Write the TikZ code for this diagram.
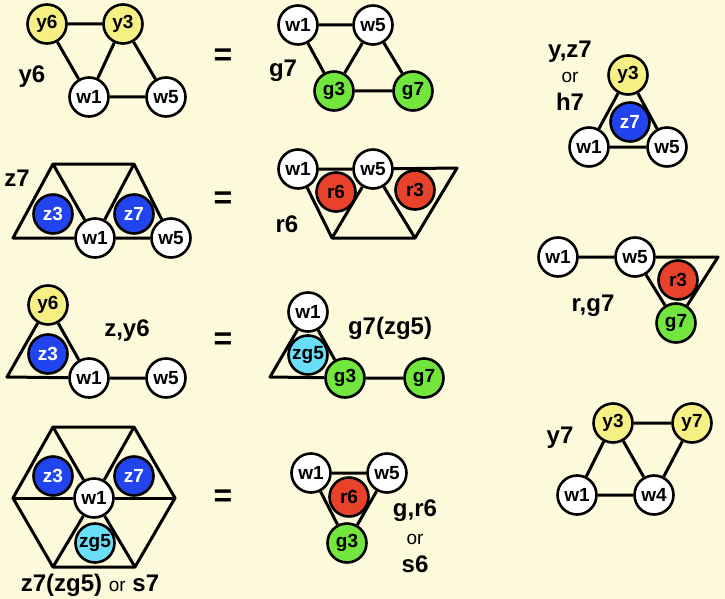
\documentclass[tikz,border=0pt]{standalone}
\usepackage{fontspec}
\setmainfont{Liberation Sans}
\definecolor{bgc}{HTML}{FDFADC}
\definecolor{ylw}{HTML}{F6EF84}
\definecolor{blu}{HTML}{2244EE}
\definecolor{rdc}{HTML}{E8432A}
\definecolor{grn}{HTML}{72E63C}
\definecolor{cyn}{HTML}{6ADDF7}

\begin{document}
\begin{tikzpicture}[x=1pt, y=-1pt,
    every node/.style={font=\fontsize{19}{21}\selectfont\bfseries},
    nd/.style={circle, draw, line width=2.6pt, minimum size=39pt, inner sep=0pt},
    wh/.style={nd, fill=white},
    yl/.style={nd, fill=ylw},
    bl/.style={nd, fill=blu, text=white},
    rd/.style={nd, fill=rdc},
    gr/.style={nd, fill=grn},
    cy/.style={nd, fill=cyn},
    ln/.style={line width=3pt, line join=round},
    lbl/.style={font=\fontsize{24}{26}\selectfont\bfseries},
    orl/.style={font=\fontsize{19}{21}\selectfont},
    eq/.style={font=\fontsize{32}{32}\selectfont\bfseries},
  ]
  \fill[bgc] (0,0) rectangle (725,599);
  \useasboundingbox (0,0) rectangle (725,599);

  % row 1: y6 = g7
  \node[yl] (a-y6) at (47,24) {y6};
  \node[yl] (a-y3) at (123,24) {y3};
  \node[wh] (a-w1) at (89,97) {w1};
  \node[wh] (a-w5) at (166,97) {w5};
  \draw[ln] (a-y6) -- (a-y3) (a-y6) -- (a-w1) (a-y3) -- (a-w1)
            (a-y3) -- (a-w5) (a-w1) -- (a-w5);
  \node[lbl] (a-lbl) at (32,77) {y6};
  \node[eq] (eq1) at (223,57) {=};

  \node[wh] (b-w1) at (298,25) {w1};
  \node[wh] (b-w5) at (373,25) {w5};
  \node[gr] (b-g3) at (334,91) {g3};
  \node[gr] (b-g7) at (413,91) {g7};
  \draw[ln] (b-w1) -- (b-w5) (b-w1) -- (b-g3) (b-w5) -- (b-g3)
            (b-w5) -- (b-g7) (b-g3) -- (b-g7);
  \node[lbl] (b-lbl) at (283,71) {g7};

  % right column: y,z7
  \node[yl] (c-y3) at (628,75) {y3};
  \node[wh] (c-w1) at (589,147) {w1};
  \node[wh] (c-w5) at (667,147) {w5};
  \draw[ln] (c-y3) -- (c-w1) -- (c-w5) -- (c-y3);
  \node[bl] (c-z7) at (630,122) {z7};
  \node[lbl] (c-lbl1) at (570,52) {y,z7};
  \node[orl] (c-lbl2) at (570,77) {or};
  \node[lbl] (c-lbl3) at (570,102) {h7};

  % row 2: z7 = r6
  \coordinate (d-c1) at (13,238);
  \coordinate (d-c2) at (53,164);
  \coordinate (d-c3) at (134,164);
  \node[wh] (d-w1) at (95,238) {w1};
  \node[wh] (d-w5) at (171,238) {w5};
  \draw[ln] (d-w1) -- (d-c1) -- (d-c2) -- (d-c3) -- (d-w5);
  \draw[ln] (d-c2) -- (d-w1) (d-w1) -- (d-c3) (d-w1) -- (d-w5);
  \node[bl] (d-z3) at (53,214) {z3};
  \node[bl] (d-z7) at (134,214) {z7};
  \node[lbl] (d-lbl) at (17,178) {z7};
  \node[eq] (eq2) at (223,200) {=};

  \coordinate (e-c1) at (457,168);
  \coordinate (e-c2) at (332,238);
  \coordinate (e-c3) at (415,238);
  \node[wh] (e-w1) at (298,169) {w1};
  \node[wh] (e-w5) at (373,169) {w5};
  \draw[ln] (e-w1) -- (e-w5) (e-w5) -- (e-c1) -- (e-c3) -- (e-c2) -- (e-w1);
  \draw[ln] (e-c2) -- (e-w5) (e-w5) -- (e-c3);
  \node[rd] (e-r6) at (336,192) {r6};
  \node[rd] (e-r3) at (415,190) {r3};
  \node[lbl] (e-lbl) at (287,224) {r6};

  % right column: r,g7
  \coordinate (f-c) at (718,257);
  \node[wh] (f-w1) at (558,257) {w1};
  \node[wh] (f-w5) at (635,257) {w5};
  \node[gr] (f-g7) at (676,323) {g7};
  \draw[ln] (f-w1) -- (f-w5) (f-w5) -- (f-c) -- (f-g7) (f-w5) -- (f-g7);
  \node[rd] (f-r3) at (678,280) {r3};
  \node[lbl] (f-lbl) at (593,306) {r,g7};

  % row 3: z,y6 = g7(zg5)
  \coordinate (g-c) at (7,377);
  \node[yl] (g-y6) at (48,305) {y6};
  \node[wh] (g-w1) at (89,378) {w1};
  \node[wh] (g-w5) at (166,378) {w5};
  \draw[ln] (g-y6) -- (g-c) -- (g-w1) (g-y6) -- (g-w1) (g-w1) -- (g-w5);
  \node[bl] (g-z3) at (48,354) {z3};
  \node[lbl] (g-lbl) at (127,331) {z,y6};
  \node[eq] (eq3) at (223,341) {=};

  \coordinate (h-c) at (270,377);
  \node[wh] (h-w1) at (308,312) {w1};
  \node[gr] (h-g3) at (345,378) {g3};
  \node[gr] (h-g7) at (424,378) {g7};
  \draw[ln] (h-w1) -- (h-c) -- (h-g3) (h-w1) -- (h-g3) (h-g3) -- (h-g7);
  \node[cy] (h-zg5) at (308,355) {zg5};
  \node[lbl] (h-lbl) at (390,328) {g7(zg5)};

  % right column: y7
  \node[yl] (k-y3) at (613,423) {y3};
  \node[yl] (k-y7) at (692,423) {y7};
  \node[wh] (k-w1) at (577,495) {w1};
  \node[wh] (k-w4) at (654,495) {w4};
  \draw[ln] (k-y3) -- (k-y7) (k-y3) -- (k-w1) (k-y3) -- (k-w4)
            (k-y7) -- (k-w4) (k-w1) -- (k-w4);
  \node[lbl] (k-lbl) at (560,438) {y7};

  % row 4: z7(zg5) = g,r6
  \coordinate (m-v1) at (53,427);
  \coordinate (m-v2) at (134,427);
  \coordinate (m-v3) at (175,498);
  \coordinate (m-v4) at (135,567);
  \coordinate (m-v5) at (53,567);
  \coordinate (m-v6) at (13,498);
  \node[wh] (m-w1) at (94,498) {w1};
  \draw[ln] (m-v1) -- (m-v2) -- (m-v3) -- (m-v4) -- (m-v5) -- (m-v6) -- cycle;
  \foreach \v in {1,...,6}
    \draw[ln] (m-w1) -- (m-v\v);
  \node[bl] (m-z3) at (53,476) {z3};
  \node[bl] (m-z7) at (134,476) {z7};
  \node[cy] (m-zg5) at (95,543) {zg5};
  \node[lbl] (m-lbl) at (90,585) {z7(zg5) {\fontsize{19}{21}\selectfont\mdseries or} s7};
  \node[eq] (eq4) at (223,498) {=};

  \node[wh] (n-w1) at (311,473) {w1};
  \node[wh] (n-w5) at (387,473) {w5};
  \node[gr] (n-g3) at (347,543) {g3};
  \draw[ln] (n-w1) -- (n-w5) -- (n-g3) -- (n-w1);
  \node[rd] (n-r6) at (349,497) {r6};
  \node[lbl] (n-lbl1) at (415,511) {g,r6};
  \node[orl] (n-lbl2) at (415,539) {or};
  \node[lbl] (n-lbl3) at (415,564) {s6};
\end{tikzpicture}
\end{document}
